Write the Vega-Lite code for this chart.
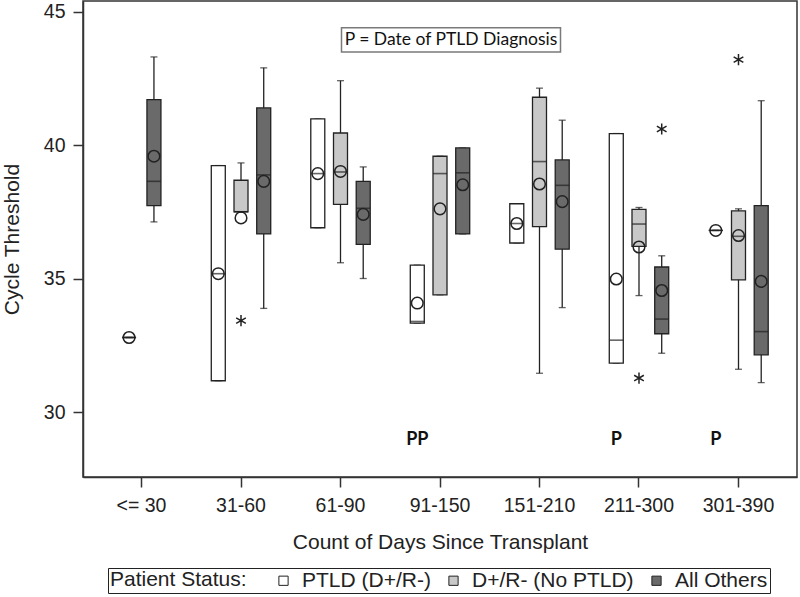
{
  "$schema": "https://vega.github.io/schema/vega-lite/v6.json",
  "width": 714,
  "height": 476,
  "autosize": {"type": "none"},
  "padding": {"left": 83, "top": 1, "right": 3, "bottom": 120},
  "background": "white",
  "datasets": {
    "boxes": [
      {"cat": "<= 30", "group": "PTLD (D+/R-)", "lo": 32.8, "q1": 32.8, "med": 32.8, "q3": 32.8, "hi": 32.8, "mean": 32.8},
      {"cat": "<= 30", "group": "All Others", "lo": 37.13, "q1": 37.74, "med": 38.65, "q3": 41.71, "hi": 43.31, "mean": 39.59},
      {"cat": "31-60", "group": "PTLD (D+/R-)", "lo": 31.18, "q1": 31.18, "med": 35.19, "q3": 39.24, "hi": 39.24, "mean": 35.19},
      {"cat": "31-60", "group": "D+/R- (No PTLD)", "lo": 37.51, "q1": 37.51, "med": 37.51, "q3": 38.69, "hi": 39.34, "mean": 37.28},
      {"cat": "31-60", "group": "All Others", "lo": 33.89, "q1": 36.68, "med": 38.89, "q3": 41.4, "hi": 42.9, "mean": 38.65},
      {"cat": "61-90", "group": "PTLD (D+/R-)", "lo": 36.91, "q1": 36.91, "med": 38.94, "q3": 40.99, "hi": 40.99, "mean": 38.94},
      {"cat": "61-90", "group": "D+/R- (No PTLD)", "lo": 35.6, "q1": 37.79, "med": 39.0, "q3": 40.46, "hi": 42.42, "mean": 39.02},
      {"cat": "61-90", "group": "All Others", "lo": 35.01, "q1": 36.29, "med": 37.64, "q3": 38.65, "hi": 39.19, "mean": 37.41},
      {"cat": "91-150", "group": "PTLD (D+/R-)", "lo": 33.34, "q1": 33.34, "med": 33.4, "q3": 35.51, "hi": 35.51, "mean": 34.09},
      {"cat": "91-150", "group": "D+/R- (No PTLD)", "lo": 34.4, "q1": 34.4, "med": 38.94, "q3": 39.59, "hi": 39.59, "mean": 37.62},
      {"cat": "91-150", "group": "All Others", "lo": 36.68, "q1": 36.68, "med": 38.97, "q3": 39.9, "hi": 39.9, "mean": 38.52},
      {"cat": "151-210", "group": "PTLD (D+/R-)", "lo": 36.34, "q1": 36.34, "med": 37.07, "q3": 37.81, "hi": 37.81, "mean": 37.07},
      {"cat": "151-210", "group": "D+/R- (No PTLD)", "lo": 31.46, "q1": 36.95, "med": 39.39, "q3": 41.8, "hi": 42.14, "mean": 38.55},
      {"cat": "151-210", "group": "All Others", "lo": 33.92, "q1": 36.11, "med": 38.5, "q3": 39.45, "hi": 40.94, "mean": 37.89},
      {"cat": "211-300", "group": "PTLD (D+/R-)", "lo": 31.84, "q1": 31.84, "med": 32.7, "q3": 40.44, "hi": 40.44, "mean": 34.99},
      {"cat": "211-300", "group": "D+/R- (No PTLD)", "lo": 34.37, "q1": 36.21, "med": 37.05, "q3": 37.6, "hi": 37.67, "mean": 36.19},
      {"cat": "211-300", "group": "All Others", "lo": 32.21, "q1": 32.94, "med": 33.49, "q3": 35.44, "hi": 35.86, "mean": 34.56},
      {"cat": "301-390", "group": "PTLD (D+/R-)", "lo": 36.81, "q1": 36.81, "med": 36.81, "q3": 36.81, "hi": 36.81, "mean": 36.81},
      {"cat": "301-390", "group": "D+/R- (No PTLD)", "lo": 31.61, "q1": 34.96, "med": 36.59, "q3": 37.54, "hi": 37.62, "mean": 36.62},
      {"cat": "301-390", "group": "All Others", "lo": 31.11, "q1": 32.15, "med": 33.02, "q3": 37.74, "hi": 41.67, "mean": 34.9}
    ],
    "outliers": [
      {"cat": "31-60", "group": "D+/R- (No PTLD)", "value": 33.43},
      {"cat": "211-300", "group": "D+/R- (No PTLD)", "value": 31.28},
      {"cat": "211-300", "group": "All Others", "value": 40.61},
      {"cat": "301-390", "group": "D+/R- (No PTLD)", "value": 43.21}
    ],
    "notes": [
      {"cat": "91-150", "group": "PTLD (D+/R-)", "label": "PP"},
      {"cat": "211-300", "group": "PTLD (D+/R-)", "label": "P"},
      {"cat": "301-390", "group": "PTLD (D+/R-)", "label": "P"}
    ]
  },
  "layer": [
    {
      "layer": [
        {
          "data": {"name": "boxes"},
          "transform": [{"filter": "datum.cat !== '<= 30'"}],
          "layer": [
            {
              "mark": {"type": "rule", "color": "#222", "strokeWidth": 1.3},
              "encoding": {
                "x": {"field": "cat", "type": "nominal", "title": "Count of Days Since Transplant", "scale": {"domain": ["<= 30", "31-60", "61-90", "91-150", "151-210", "211-300", "301-390"], "paddingInner": 0, "paddingOuter": 0.088}},
                "xOffset": {"field": "group", "type": "nominal", "scale": {"domain": ["PTLD (D+/R-)", "D+/R- (No PTLD)", "All Others"], "paddingInner": 0, "paddingOuter": 0.69}},
                "y": {"field": "lo", "type": "quantitative", "title": "Cycle Threshold", "scale": {"domain": [27.574, 45.405], "nice": false, "zero": false}, "axis": {"values": [30, 35, 40, 45]}},
                "y2": {"field": "hi"}
              }
            },
            {
              "mark": {"type": "tick", "color": "#222", "size": 7, "thickness": 1.3},
              "encoding": {
                "x": {"field": "cat", "type": "nominal", "title": "Count of Days Since Transplant"},
                "xOffset": {"field": "group", "type": "nominal"},
                "y": {"field": "lo", "type": "quantitative", "title": "Cycle Threshold"}
              }
            },
            {
              "mark": {"type": "tick", "color": "#222", "size": 7, "thickness": 1.3},
              "encoding": {
                "x": {"field": "cat", "type": "nominal", "title": "Count of Days Since Transplant"},
                "xOffset": {"field": "group", "type": "nominal"},
                "y": {"field": "hi", "type": "quantitative", "title": "Cycle Threshold"}
              }
            },
            {
              "mark": {"type": "bar", "width": 14, "stroke": "#222", "strokeWidth": 1.3},
              "encoding": {
                "x": {"field": "cat", "type": "nominal", "title": "Count of Days Since Transplant"},
                "xOffset": {"field": "group", "type": "nominal"},
                "y": {"field": "q1", "type": "quantitative", "title": "Cycle Threshold"},
                "y2": {"field": "q3"},
                "fill": {"field": "group", "type": "nominal", "title": "Patient Status:", "scale": {"domain": ["PTLD (D+/R-)", "D+/R- (No PTLD)", "All Others"], "range": ["#ffffff", "#c8c8c8", "#6a6a6a"]}}
              }
            },
            {
              "mark": {"type": "tick", "color": "#222", "size": 14, "thickness": 1.6},
              "encoding": {
                "x": {"field": "cat", "type": "nominal", "title": "Count of Days Since Transplant"},
                "xOffset": {"field": "group", "type": "nominal"},
                "y": {"field": "med", "type": "quantitative", "title": "Cycle Threshold"}
              }
            },
            {
              "mark": {"type": "point", "shape": "circle", "filled": false, "size": 135, "stroke": "#222", "strokeWidth": 1.5, "opacity": 1},
              "encoding": {
                "x": {"field": "cat", "type": "nominal", "title": "Count of Days Since Transplant"},
                "xOffset": {"field": "group", "type": "nominal"},
                "y": {"field": "mean", "type": "quantitative", "title": "Cycle Threshold"}
              }
            }
          ]
        },
        {
          "data": {"name": "outliers"},
          "mark": {"type": "point", "shape": "M0,-1V1M-0.866,-0.5L0.866,0.5M-0.866,0.5L0.866,-0.5", "filled": false, "size": 125, "stroke": "#222", "strokeWidth": 1.5, "opacity": 1},
          "encoding": {
            "x": {"field": "cat", "type": "nominal", "title": "Count of Days Since Transplant"},
            "xOffset": {"field": "group", "type": "nominal"},
            "y": {"field": "value", "type": "quantitative", "title": "Cycle Threshold"}
          }
        },
        {
          "data": {"name": "notes"},
          "mark": {"type": "text", "font": "Lato", "fontWeight": "bold", "fontSize": 18, "color": "#111", "baseline": "middle", "align": "center"},
          "encoding": {
            "x": {"field": "cat", "type": "nominal", "title": "Count of Days Since Transplant"},
            "xOffset": {"field": "group", "type": "nominal"},
            "y": {"datum": 28.96, "type": "quantitative", "title": "Cycle Threshold"},
            "text": {"field": "label"}
          }
        },
        {
          "data": {"values": [{}]},
          "mark": {"type": "bar", "width": 219, "fill": "white", "stroke": "#7a7a7a", "strokeWidth": 1.5, "xOffset": 11},
          "encoding": {
            "x": {"datum": "91-150", "type": "nominal", "title": "Count of Days Since Transplant"},
            "y": {"datum": 44.4, "type": "quantitative", "title": "Cycle Threshold"},
            "y2": {"datum": 43.49}
          }
        },
        {
          "data": {"values": [{}]},
          "mark": {"type": "text", "font": "Lato", "fontSize": 17.5, "color": "#111", "baseline": "middle", "align": "center", "xOffset": 11},
          "encoding": {
            "x": {"datum": "91-150", "type": "nominal", "title": "Count of Days Since Transplant"},
            "y": {"datum": 43.95, "type": "quantitative", "title": "Cycle Threshold"},
            "text": {"value": "P = Date of PTLD Diagnosis"}
          }
        }
      ]
    },
    {
      "data": {"name": "boxes"},
      "transform": [{"filter": "datum.cat === '<= 30'"}],
      "layer": [
        {
          "mark": {"type": "rule", "color": "#222", "strokeWidth": 1.3},
          "encoding": {
            "x": {"field": "cat", "type": "nominal", "title": "Count of Days Since Transplant"},
            "xOffset": {"field": "group", "type": "nominal", "scale": {"domain": ["PTLD (D+/R-)", "All Others"], "paddingInner": 0, "paddingOuter": 1.163}},
            "y": {"field": "lo", "type": "quantitative", "title": "Cycle Threshold"},
            "y2": {"field": "hi"}
          }
        },
        {
          "mark": {"type": "tick", "color": "#222", "size": 7, "thickness": 1.3},
          "encoding": {
            "x": {"field": "cat", "type": "nominal", "title": "Count of Days Since Transplant"},
            "xOffset": {"field": "group", "type": "nominal"},
            "y": {"field": "lo", "type": "quantitative", "title": "Cycle Threshold"}
          }
        },
        {
          "mark": {"type": "tick", "color": "#222", "size": 7, "thickness": 1.3},
          "encoding": {
            "x": {"field": "cat", "type": "nominal", "title": "Count of Days Since Transplant"},
            "xOffset": {"field": "group", "type": "nominal"},
            "y": {"field": "hi", "type": "quantitative", "title": "Cycle Threshold"}
          }
        },
        {
          "mark": {"type": "bar", "width": 14, "stroke": "#222", "strokeWidth": 1.3},
          "encoding": {
            "x": {"field": "cat", "type": "nominal", "title": "Count of Days Since Transplant"},
            "xOffset": {"field": "group", "type": "nominal"},
            "y": {"field": "q1", "type": "quantitative", "title": "Cycle Threshold"},
            "y2": {"field": "q3"},
            "fill": {"field": "group", "type": "nominal", "title": "Patient Status:"}
          }
        },
        {
          "mark": {"type": "tick", "color": "#222", "size": 14, "thickness": 1.6},
          "encoding": {
            "x": {"field": "cat", "type": "nominal", "title": "Count of Days Since Transplant"},
            "xOffset": {"field": "group", "type": "nominal"},
            "y": {"field": "med", "type": "quantitative", "title": "Cycle Threshold"}
          }
        },
        {
          "mark": {"type": "point", "shape": "circle", "filled": false, "size": 135, "stroke": "#222", "strokeWidth": 1.5, "opacity": 1},
          "encoding": {
            "x": {"field": "cat", "type": "nominal", "title": "Count of Days Since Transplant"},
            "xOffset": {"field": "group", "type": "nominal"},
            "y": {"field": "mean", "type": "quantitative", "title": "Cycle Threshold"}
          }
        }
      ]
    }
  ],
  "resolve": {"scale": {"xOffset": "independent"}},
  "config": {
    "font": "Liberation Sans",
    "view": {"stroke": "#333", "strokeWidth": 1.5},
    "axis": {
      "labelFont": "Liberation Sans",
      "titleFont": "Liberation Sans",
      "labelColor": "#222",
      "titleColor": "#222",
      "titleFontWeight": "normal",
      "domainColor": "#333",
      "domainWidth": 1.5,
      "tickColor": "#333",
      "tickWidth": 1.5,
      "tickSize": 10,
      "grid": false,
      "labelFontSize": 19.5,
      "titleFontSize": 21
    },
    "axisX": {"labelAngle": 0, "labelPadding": 9, "titlePadding": 17},
    "axisY": {"labelPadding": 8, "titlePadding": 21},
    "legend": {
      "orient": "none",
      "legendX": 25,
      "legendY": 567,
      "direction": "horizontal",
      "titleOrient": "left",
      "titleFont": "Liberation Sans",
      "labelFont": "Liberation Sans",
      "titleFontSize": 21,
      "labelFontSize": 21,
      "labelLimit": 400,
      "titleLimit": 400,
      "titleFontWeight": "normal",
      "titleColor": "#222",
      "labelColor": "#222",
      "strokeColor": "#222",
      "strokeWidth": 1,
      "padding": 2,
      "symbolType": "square",
      "symbolSize": 85,
      "symbolStrokeColor": "#222",
      "symbolStrokeWidth": 1,
      "labelOffset": 8,
      "columnPadding": 12,
      "titlePadding": 26
    }
  }
}
